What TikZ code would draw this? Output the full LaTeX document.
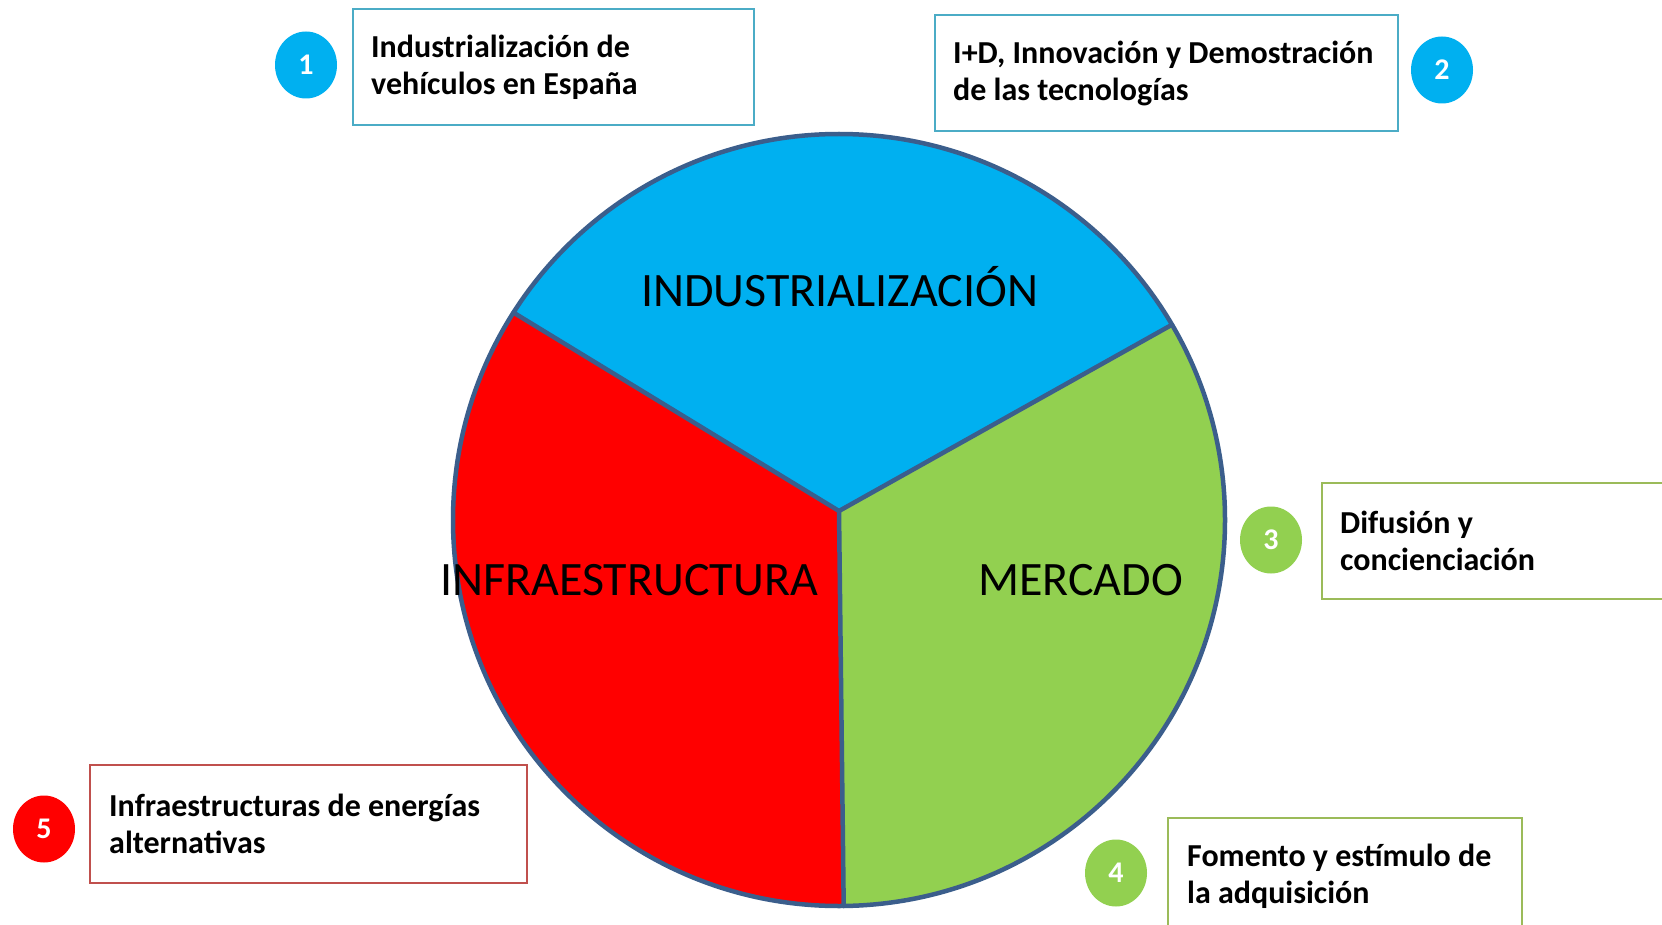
\documentclass[tikz,border=0pt]{standalone}
\usepackage{fontspec}
\setmainfont{Carlito}
\newfontfamily\boxfont{Carlito}
\usetikzlibrary{shapes.geometric}
\definecolor{pieblue}{HTML}{00B0F0}
\definecolor{piegreen}{HTML}{92D050}
\definecolor{piered}{HTML}{FF0000}
\definecolor{pieline}{HTML}{3B5E8C}
\definecolor{boxblue}{HTML}{4BACC6}
\definecolor{boxgreen}{HTML}{9BBB59}
\definecolor{boxred}{HTML}{C0504D}
\begin{document}
\begin{tikzpicture}[x=1pt,y=-1pt,
  pieedge/.style={draw=pieline, line width=4.5pt, line cap=round, line join=round},
  boxframe/.style={draw=#1, line width=2pt, anchor=north west, inner sep=0pt,
    minimum height=116pt},
  boxtext/.style={anchor=west, inner sep=0pt, align=left,
    font=\boxfont\fontsize{32}{37}\selectfont\bfseries},
  badge/.style={ellipse, fill=#1, minimum width=62pt, minimum height=67pt,
    inner sep=0pt, text=white, font=\fontsize{30}{30}\selectfont\bfseries},
  pielabel/.style={anchor=base west, inner sep=0pt, font=\fontsize{48}{48}\selectfont}]
\clip (0,0) rectangle (1662,925);
\fill[white] (0,0) rectangle (1662,925);
% pie
\coordinate (C) at (839,520);
\coordinate (V) at (839,511);
\coordinate (UL) at (513.5,312.6);
\coordinate (UR) at (1172,324.7);
\coordinate (B) at (843.7,906);
\begin{scope}
  \clip (C) circle[radius=386];
  \fill[pieblue] (V) -- (351,213) -- (351,-100) -- (1339,-100) -- (1339,231) -- cycle;
  \fill[piegreen] (V) -- (1339,231) -- (1400,231) -- (1400,1104) -- (846,1104) -- cycle;
  \fill[piered] (V) -- (846,1104) -- (300,1104) -- (300,213) -- (351,213) -- cycle;
\end{scope}
\draw[pieedge] (C) circle[radius=386];
\draw[pieedge] (UL) -- (V) -- (UR);
\draw[pieedge] (V) -- (B);
\node[pielabel] (lind) at (641,306) {INDUSTRIALIZACIÓN};
\node[pielabel] (linf) at (440,595) {INFRAESTRUCTURA};
\node[pielabel] (lmer) at (978,595) {MERCADO};
% boxes
\node[boxframe=boxblue, minimum width=401pt] (b1) at (352,8) {};
\node[boxtext] (t1) at ([xshift=19pt]b1.west) {Industrialización de\\vehículos en España};
\node[boxframe=boxblue, minimum width=463pt] (b2) at (934,14) {};
\node[boxtext] (t2) at ([xshift=19pt]b2.west) {I+D, Innovación y Demostración\\de las tecnologías};
\node[boxframe=boxgreen, minimum width=420pt] (b3) at (1321,482) {};
\node[boxtext] (t3) at ([xshift=19pt]b3.west) {Difusión y\\concienciación};
\node[boxframe=boxgreen, minimum width=354pt] (b4) at (1167,817) {};
\node[boxtext] (t4) at ([xshift=20pt]b4.west) {Fomento y estímulo de\\la adquisición};
\node[boxframe=boxred, minimum width=437pt, minimum height=118pt] (b5) at (89,764) {};
\node[boxtext] (t5) at ([xshift=20pt]b5.west) {Infraestructuras de energías\\alternativas};
% badges
\node[badge=pieblue] (n1) at (306,65) {1};
\node[badge=pieblue] (n2) at (1442,70) {2};
\node[badge=piegreen] (n3) at (1271,540) {3};
\node[badge=piegreen] (n4) at (1116,873) {4};
\node[badge=piered] (n5) at (44,829) {5};
\end{tikzpicture}
\end{document}
